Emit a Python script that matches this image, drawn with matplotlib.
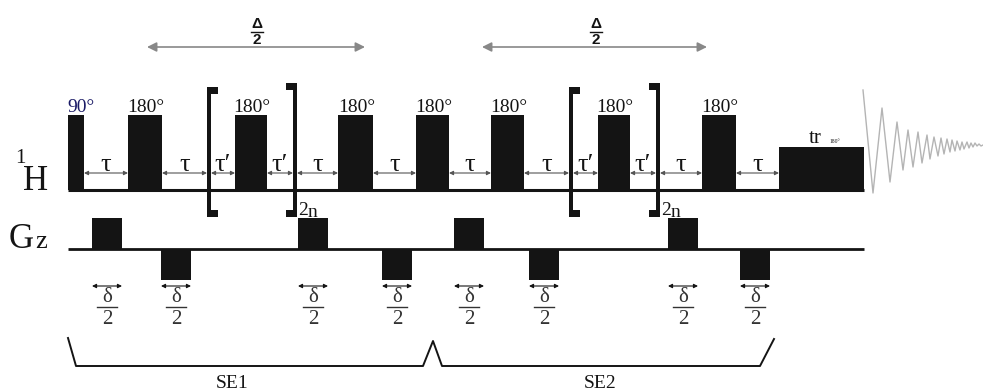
import matplotlib.pyplot as plt

plt.rcParams['font.family'] = ['Liberation Serif', 'DejaVu Serif']

# 1H channel: rf pulses (start, width, label)
pulse_start = [68, 128, 235, 338, 416, 491, 598, 702]
pulse_width = [16, 34, 32, 35, 33, 33, 32, 34]
pulse_label = ['90°', '180°', '180°', '180°', '180°', '180°', '180°', '180°']
tr_start, tr_end = 779, 864

# bracket positions (x, side) around the 2n loop
bracket_x = [207, 293, 569, 656]
bracket_side = ['left', 'right', 'left', 'right']

# delays between the 1H events
delay_from = [84, 162, 211, 267, 297, 373, 449, 524, 573, 630, 660, 736]
delay_to = [128, 207, 235, 293, 338, 416, 491, 569, 598, 656, 702, 779]
delay_label = ['τ', 'τ', 'τ\u2032', 'τ\u2032', 'τ', 'τ', 'τ', 'τ', 'τ\u2032', 'τ\u2032', 'τ', 'τ']

# Gz channel: gradient pulses
grad_start = [92, 161, 298, 382, 454, 529, 668, 740]
grad_sign = [1, -1, 1, -1, 1, -1, 1, -1]

# FID extrema
fid_x = [863, 873, 882, 890, 897, 903, 908, 913, 918, 922, 927, 930, 934, 938, 941,
         944, 947, 950, 952, 955, 957, 960, 962, 964, 967, 969, 971, 973, 975, 977, 979, 981, 983]
fid_y = [90, 193, 108, 182, 122, 170, 130, 167, 132, 163, 135, 159, 137, 156, 138,
         154, 139, 152, 140, 151, 141, 150, 142, 149, 142, 148, 143, 147, 143, 146, 144, 146, 145]

H_BASE = 190
G_BASE = 249
BLACK = '#141414'

fig = plt.figure(figsize=(9.83, 3.92), dpi=100)
ax = fig.add_axes([0, 0, 1, 1])
ax.set_xlim(0, 983)
ax.set_ylim(392, 0)
ax.axis('off')

# ---- 1H line
ax.plot([68, tr_end], [H_BASE, H_BASE], color=BLACK, lw=2.2, solid_capstyle='butt')
ax.bar(pulse_start, [-75] * len(pulse_start), width=pulse_width, bottom=H_BASE,
       align='edge', color=BLACK)
ax.bar([tr_start], [-43], width=[tr_end - tr_start], bottom=H_BASE, align='edge', color=BLACK)

for x, w, lab in zip(pulse_start, pulse_width, pulse_label):
    if lab == '90°':
        ax.text(x - 1, 112, lab, ha='left', va='baseline', fontsize=14, color='#1b1b66')
    else:
        ax.text(x + w / 2 + 1, 112, lab, ha='center', va='baseline', fontsize=14, color=BLACK)

ax.text(tr_start + 36, 143, 'tr', ha='center', va='baseline', fontsize=15, color=BLACK)
ax.text(tr_start + 56, 143, '180°', ha='center', va='baseline', fontsize=4, color=BLACK)

# brackets
for x, side in zip(bracket_x, bracket_side):
    top = 87 if side == 'left' else 83
    ax.bar([x], [217 - top], width=4, bottom=top, align='edge', color=BLACK)
    tab_x = x if side == 'left' else x - 7
    ax.bar([tab_x, tab_x], [7, 7], width=11, bottom=[top, 210], align='edge', color=BLACK)
    if side == 'right':
        ax.text(x + 5, 215, '2', ha='left', va='baseline', fontsize=14, color=BLACK)
        ax.text(x + 15, 217, 'n', ha='left', va='baseline', fontsize=14, color=BLACK)

# delay arrows
for a, b, lab in zip(delay_from, delay_to, delay_label):
    ax.annotate('', xy=(b, 173), xytext=(a, 173),
                arrowprops=dict(arrowstyle='<|-|>', color='#555555', lw=0.8,
                                mutation_scale=6, shrinkA=0, shrinkB=0))
    ax.text((a + b) / 2, 171, lab, ha='center', va='baseline', fontsize=19, color=BLACK)

# FID
ax.plot(fid_x, fid_y, color='#b4b4b4', lw=1.0)

# ---- Gz line
ax.plot([68, tr_end], [G_BASE, G_BASE], color=BLACK, lw=2.0, solid_capstyle='butt')
ax.bar(grad_start, [-31 * s for s in grad_sign], width=30, bottom=G_BASE,
       align='edge', color=BLACK)
for x in grad_start:
    ax.annotate('', xy=(x + 30, 286), xytext=(x, 286),
                arrowprops=dict(arrowstyle='<|-|>', color=BLACK, lw=0.8,
                                mutation_scale=6, shrinkA=0, shrinkB=0))
    ax.text(x + 15, 298, 'δ', ha='center', va='center', fontsize=15, color='#333333')
    ax.plot([x + 5, x + 25], [307, 307], color='#333333', lw=1.0)
    ax.text(x + 15, 319, '2', ha='center', va='center', fontsize=15, color='#333333')

# channel labels
ax.text(15, 163, '1', ha='left', va='baseline', fontsize=15, color=BLACK)
ax.text(23, 190, 'H', ha='left', va='baseline', fontsize=25, color=BLACK)
ax.text(9, 248, 'G', ha='left', va='baseline', fontsize=25, color=BLACK)
ax.text(35, 248, 'z', ha='left', va='baseline', fontsize=19, color=BLACK)

# Delta/2 arrows
for a, b in [(147, 365), (482, 707)]:
    ax.annotate('', xy=(b, 47), xytext=(a, 47),
                arrowprops=dict(arrowstyle='<|-|>', color='#888888', lw=1.2,
                                mutation_scale=14, shrinkA=0, shrinkB=0))
    c = (a + b) / 2 + 1
    ax.text(c, 24, 'Δ', ha='center', va='center', fontsize=11, fontweight='bold',
            family='Liberation Sans', color=BLACK)
    ax.plot([c - 6, c + 6], [32, 32], color=BLACK, lw=1.0)
    ax.text(c, 40, '2', ha='center', va='center', fontsize=11, fontweight='bold',
            family='Liberation Sans', color=BLACK)

# SE braces
ax.plot([68, 76, 423, 433, 442, 760, 774], [338, 366, 366, 341, 366, 366, 339],
        color=BLACK, lw=1.4)
ax.text(232, 384, 'SE1', ha='center', va='center', fontsize=14, color=BLACK)
ax.text(600, 384, 'SE2', ha='center', va='center', fontsize=14, color=BLACK)

fig.savefig('out.png', dpi=100)
